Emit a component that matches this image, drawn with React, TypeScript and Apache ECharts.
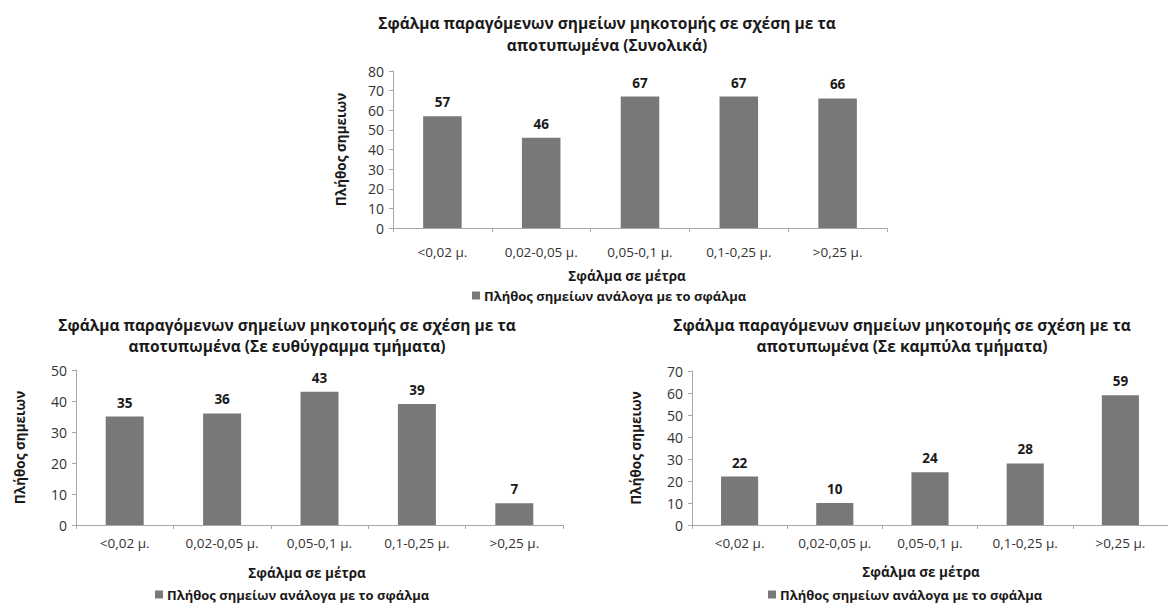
import React, { useEffect, useRef } from "react";
import * as echarts from "echarts";

// Error classes of the generated profile points (metres)
const categories = ["<0,02 μ.", "0,02-0,05 μ.", "0,05-0,1 μ.", "0,1-0,25 μ.", ">0,25 μ."];

// Point counts per error class
const totalValues = [57, 46, 67, 67, 66];
const straightValues = [35, 36, 43, 39, 7];
const curvedValues = [22, 10, 24, 28, 59];

// Axis scales
const totalMax = 80;
const straightMax = 50;
const curvedMax = 70;
const tickStep = 10;

const titleLine1 = "Σφάλμα παραγόμενων σημείων μηκοτομής σε σχέση με τα";
const titleTotal = "αποτυπωμένα (Συνολικά)";
const titleStraight = "αποτυπωμένα (Σε ευθύγραμμα τμήματα)";
const titleCurved = "αποτυπωμένα (Σε καμπύλα τμήματα)";
const xName = "Σφάλμα σε μέτρα";
const yName = "Πλήθος σημειων";
const seriesName = "Πλήθος σημείων ανάλογα με το σφάλμα";

const FONT = "'Open Sans', 'Noto Sans', sans-serif";
const BAR = "#787878";
const AXIS = "#a8a8a8";
const TEXT = "#333333";
const DARK = "#1a1a1a";

export default function App() {
  const ref = useRef<HTMLDivElement>(null);

  useEffect(() => {
    document.body.style.margin = "0";
    if (!ref.current) return;
    const chart = echarts.init(ref.current, undefined, { renderer: "svg" });

    const grids = [
      { left: 393, top: 71, width: 494, height: 157 },
      { left: 76, top: 370, width: 487, height: 155 },
      { left: 692, top: 371, width: 486, height: 154 },
    ];
    const maxes = [totalMax, straightMax, curvedMax];
    const labelMargins = [17, 11, 11];
    const nameGaps = [45, 49, 49];
    const datasets = [totalValues, straightValues, curvedValues];

    const xAxes = grids.map((_, i) => ({
      type: "category",
      gridIndex: i,
      data: categories,
      boundaryGap: true,
      axisLine: { lineStyle: { color: AXIS, width: 1 } },
      axisTick: { show: true, length: 4, lineStyle: { color: AXIS } },
      axisLabel: {
        color: TEXT,
        fontFamily: FONT,
        fontSize: 13.5,
        margin: labelMargins[i],
        interval: 0,
      },
    }));

    const yAxes = grids.map((_, i) => ({
      type: "value",
      gridIndex: i,
      min: 0,
      max: maxes[i],
      interval: tickStep,
      name: yName,
      nameLocation: "middle",
      nameRotate: 90,
      nameGap: nameGaps[i],
      nameTextStyle: {
        fontFamily: FONT,
        fontWeight: "bold",
        fontSize: 13.5,
        color: DARK,
      },
      axisLine: { show: true, lineStyle: { color: AXIS, width: 1 } },
      axisTick: { show: true, length: 4, lineStyle: { color: AXIS } },
      splitLine: { show: false },
      axisLabel: {
        color: TEXT,
        fontFamily: FONT,
        fontSize: 14,
        margin: 9,
      },
    }));

    const series = datasets.map((vals, i) => ({
      type: "bar",
      name: seriesName,
      xAxisIndex: i,
      yAxisIndex: i,
      data: vals,
      barWidth: "39%",
      itemStyle: { color: BAR },
      label: {
        show: true,
        position: "top",
        distance: 7,
        fontFamily: FONT,
        fontWeight: "bold",
        fontSize: 13.5,
        color: DARK,
      },
    }));

    const legendLefts = [472, 155, 768];
    const legendTops = [289, 588, 588];
    const legends = legendLefts.map((left, i) => ({
      data: [seriesName],
      left,
      top: legendTops[i],
      padding: 0,
      icon: "rect",
      itemWidth: 8,
      itemHeight: 8,
      itemGap: 4,
      selectedMode: false,
      textStyle: {
        fontFamily: FONT,
        fontWeight: "bold",
        fontSize: 13,
        color: DARK,
        padding: [0, 0, 0, -1],
      },
    }));

    const titleText = (x: number, y: number, text: string) => ({
      type: "text",
      x,
      y,
      style: {
        text,
        textAlign: "center",
        textVerticalAlign: "middle",
        font: `bold 15.5px ${FONT}`,
        fill: DARK,
      },
    });
    const nameText = (x: number, y: number) => ({
      type: "text",
      x,
      y,
      style: {
        text: xName,
        textAlign: "center",
        textVerticalAlign: "middle",
        font: `bold 13.5px ${FONT}`,
        fill: DARK,
      },
    });

    chart.setOption({
      animation: false,
      backgroundColor: "#ffffff",
      grid: grids,
      xAxis: xAxes,
      yAxis: yAxes,
      series,
      legend: legends,
      graphic: [
        titleText(607, 23, titleLine1),
        titleText(607, 45, titleTotal),
        titleText(287, 325, titleLine1),
        titleText(287, 346, titleStraight),
        titleText(902, 325, titleLine1),
        titleText(902, 346, titleCurved),
        nameText(627, 276),
        nameText(307, 573),
        nameText(921, 572),
      ],
    });

    return () => chart.dispose();
  }, []);

  return <div ref={ref} style={{ width: 1168, height: 603 }} />;
}
